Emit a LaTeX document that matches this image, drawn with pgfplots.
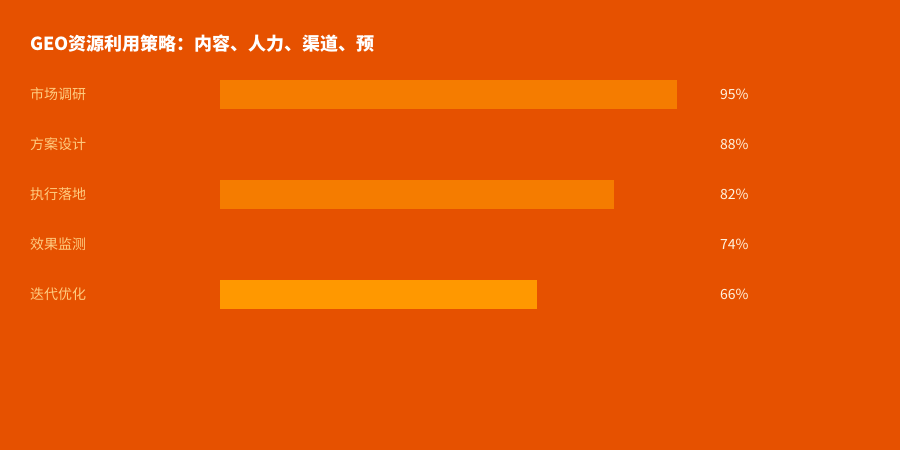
\documentclass[border=0pt]{standalone}
\usepackage{pgfplots}
\pgfplotsset{compat=1.18}
\usepackage{fontspec}
\setmainfont{Noto Sans CJK SC}
\definecolor{bg}{HTML}{E65100}
\definecolor{barmid}{HTML}{F57C00}
\definecolor{barlight}{HTML}{FF9800}
\definecolor{lbl}{HTML}{FFCC80}
\definecolor{val}{HTML}{FFF3E0}
\begin{document}
\begin{tikzpicture}[x=1bp,y=1bp]
\fill[bg] (0,0) rectangle (900,450);
\begin{axis}[
  at={(0,0)}, anchor=south west,
  width=900bp, height=450bp, scale only axis,
  hide axis,
  xmin=-45.738, xmax=141.372,
  ymin=0, ymax=450, y dir=reverse,
  xbar, bar width=29, bar shift=0pt,
  ]
  % value in percent, row centre in pixels from the top
  \addplot[draw=none, fill=barmid] coordinates {(95,94.5)};
  \addplot[draw=none, fill=bg] coordinates {(88,144.5)};
  \addplot[draw=none, fill=barmid] coordinates {(82,194.5)};
  \addplot[draw=none, fill=bg] coordinates {(74,244.5)};
  \addplot[draw=none, fill=barlight] coordinates {(66,294.5)};
\end{axis}
\node[anchor=west, inner sep=0pt, text=white, font=\fontsize{18bp}{20bp}\selectfont\bfseries] at (30,406) {GEO资源利用策略：内容、人力、渠道、预};
\begin{scope}[every node/.style={anchor=west, inner sep=0pt, font=\fontsize{14bp}{16bp}\selectfont}]
  \node[text=lbl] at (30,356) {市场调研};
  \node[text=lbl] at (30,306) {方案设计};
  \node[text=lbl] at (30,256) {执行落地};
  \node[text=lbl] at (30,206) {效果监测};
  \node[text=lbl] at (30,156) {迭代优化};
  \node[text=val] at (720,356) {95\%};
  \node[text=val] at (720,306) {88\%};
  \node[text=val] at (720,256) {82\%};
  \node[text=val] at (720,206) {74\%};
  \node[text=val] at (720,156) {66\%};
\end{scope}
\end{tikzpicture}
\end{document}
